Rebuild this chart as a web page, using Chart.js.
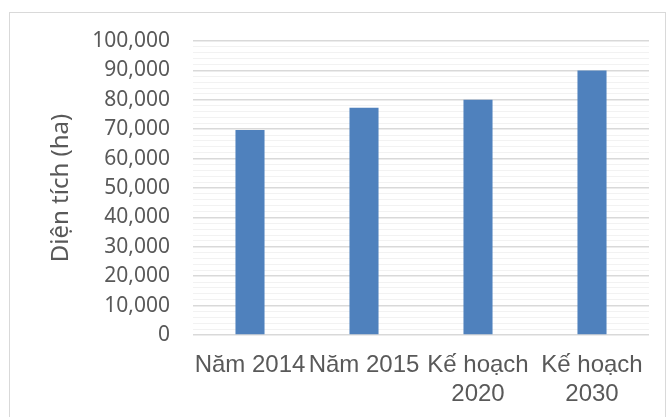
<!DOCTYPE html>
<html>
<head>
<meta charset="utf-8">
<script src="https://cdn.jsdelivr.net/npm/chart.js@4"></script>
<style>
  html, body { margin: 0; padding: 0; background: #fff; overflow: hidden; }
  #wrap { position: relative; width: 667px; height: 417px; }
  #frame { position: absolute; left: 9px; top: 12px; width: 657px; height: 420px; border: 1px solid #d9d9d9; box-sizing: border-box; pointer-events: none; }
  canvas { position: absolute; left: 0; top: 0; }
</style>
</head>
<body>
<div id="wrap">
  <canvas id="areaChart" width="667" height="417"></canvas>
  <div id="frame"></div>
</div>
<script>
/* Diện tích theo năm / kế hoạch */
const categories = [["Năm 2014"], ["Năm 2015"], ["Kế hoạch", "2020"], ["Kế hoạch", "2030"]];
const areaValues = [69700, 77300, 80000, 90000];
const yTicks = [0, 10000, 20000, 30000, 40000, 50000, 60000, 70000, 80000, 90000, 100000];
const yTitle = "Diện tích (ha)";

const textColour = "#595959";

new Chart(document.getElementById('areaChart'), {
    type: "bar",
    data: {
        labels: categories,
        datasets: [{
            label: yTitle,
            data: areaValues,
            backgroundColor: "#4f81bd",
            barPercentage: 1,
            categoryPercentage: 0.255
        }]
    },
    options: {
        responsive: false,
        animation: false,
        layout: { padding: { top: 41, right: 18, left: 0, bottom: 0 } },
        plugins: {
            legend: { display: false },
            title: { display: false },
            tooltip: { enabled: false }
        },
        scales: {
            x: {
                grid: { display: false, drawTicks: false },
                border: { display: false },
                ticks: {
                    color: textColour,
                    padding: 16,
                    maxRotation: 0,
                    autoSkip: false,
                    font: { family: "'Liberation Sans', Arial, sans-serif", size: 24, lineHeight: 1.2 }
                },
                afterFit: scale => { scale.height = 82; }
            },
            y: {
                min: 0,
                max: 100000,
                border: { display: false },
                grid: {
                    drawTicks: false,
                    color: ctx => yTicks.includes(ctx.tick.value) ? "#d9d9d9" : "#f2f2f2",
                    lineWidth: ctx => yTicks.includes(ctx.tick.value) ? 1.5 : 1
                },
                ticks: {
                    stepSize: 2000,
                    autoSkip: false,
                    color: textColour,
                    padding: 23,
                    font: { family: "'Noto Sans', sans-serif", size: 21 },
                    callback: v => yTicks.includes(v) ? v.toLocaleString("en-US") : ""
                },
                title: {
                    display: true,
                    text: yTitle,
                    color: textColour,
                    font: { family: "'Noto Sans', sans-serif", size: 24 },
                    padding: { top: 47, bottom: 0 }
                },
                afterFit: scale => { scale.width = 193; }
            }
        }
    }
});
</script>
</body>
</html>
